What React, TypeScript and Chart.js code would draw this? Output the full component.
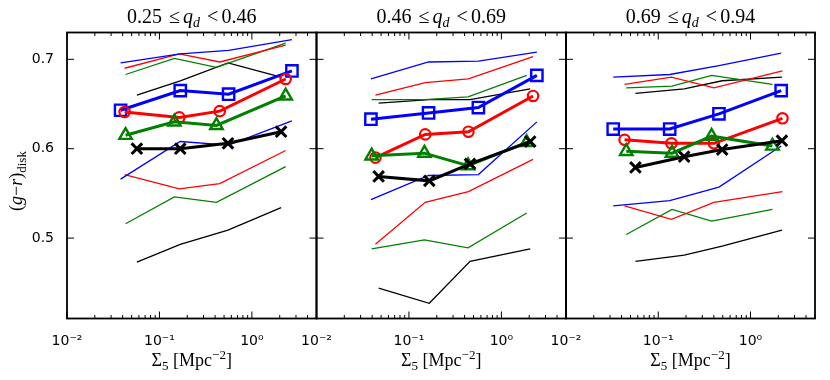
import React, { useEffect, useRef } from 'react';
import { Chart, registerables } from 'chart.js';

Chart.register(...registerables);

// ---------------- data ----------------
const qLow = ['0.25', '0.46', '0.69'];
const qHigh = ['0.46', '0.69', '0.94'];

const xMin = 0.01;
const xMax = 5;
const xMajor = [0.01, 0.1, 1];
const xMajorLabels = ['10⁻²', '10⁻¹', '10⁰'];
const yMin = 0.41;
const yMax = 0.73;
const yMajor = [0.5, 0.6, 0.7];
const yMajorLabels = ['0.5', '0.6', '0.7'];

// Panel 1 (0.25 <= q_d < 0.46)
const p1BlueX = [0.038, 0.168, 0.56, 2.71];
const p1BlueMid = [0.643, 0.665, 0.661, 0.687];
const p1BlueHi = [0.696, 0.706, 0.71, 0.722];
const p1BlueLo = [0.566, 0.608, 0.604, 0.631];
const p1RedX = [0.042, 0.164, 0.449, 2.32];
const p1RedMid = [0.641, 0.635, 0.642, 0.678];
const p1RedHi = [0.69, 0.706, 0.697, 0.716];
const p1RedLo = [0.571, 0.555, 0.561, 0.598];
const p1GreenX = [0.043, 0.145, 0.414, 2.32];
const p1GreenMid = [0.615, 0.63, 0.626, 0.659];
const p1GreenHi = [0.683, 0.701, 0.691, 0.718];
const p1GreenLo = [0.516, 0.546, 0.54, 0.58];
const p1BlackX = [0.057, 0.168, 0.551, 2.07];
const p1BlackMid = [0.6, 0.6, 0.606, 0.619];
const p1BlackHi = [0.66, 0.676, 0.696, 0.68];
const p1BlackLo = [0.473, 0.493, 0.509, 0.534];

// Panel 2 (0.46 <= q_d < 0.69)
const p2BlueX = [0.0388, 0.163, 0.564, 2.42];
const p2BlueMid = [0.633, 0.64, 0.646, 0.682];
const p2BlueHi = [0.678, 0.697, 0.698, 0.708];
const p2BlueLo = [0.543, 0.57, 0.571, 0.63];
const p2RedX = [0.0434, 0.15, 0.44, 2.2];
const p2RedMid = [0.59, 0.616, 0.619, 0.659];
const p2RedHi = [0.66, 0.674, 0.678, 0.703];
const p2RedLo = [0.493, 0.54, 0.552, 0.588];
const p2GreenX = [0.0395, 0.147, 0.436, 1.88];
const p2GreenMid = [0.592, 0.595, 0.581, 0.607];
const p2GreenHi = [0.655, 0.655, 0.658, 0.682];
const p2GreenLo = [0.488, 0.498, 0.489, 0.528];
const p2BlackX = [0.047, 0.166, 0.458, 2.05];
const p2BlackMid = [0.569, 0.564, 0.583, 0.608];
const p2BlackHi = [0.651, 0.655, 0.655, 0.667];
const p2BlackLo = [0.444, 0.427, 0.474, 0.488];

// Panel 3 (0.69 <= q_d < 0.94)
const p3BlueX = [0.0325, 0.133, 0.455, 2.15];
const p3BlueMid = [0.622, 0.622, 0.639, 0.665];
const p3BlueHi = [0.68, 0.683, 0.693, 0.707];
const p3BlueLo = [0.536, 0.542, 0.557, 0.603];
const p3RedX = [0.0431, 0.139, 0.401, 2.22];
const p3RedMid = [0.61, 0.606, 0.606, 0.634];
const p3RedHi = [0.672, 0.68, 0.668, 0.687];
const p3RedLo = [0.536, 0.521, 0.54, 0.552];
const p3GreenX = [0.045, 0.141, 0.379, 1.73];
const p3GreenMid = [0.597, 0.595, 0.614, 0.603];
const p3GreenHi = [0.668, 0.67, 0.682, 0.672];
const p3GreenLo = [0.504, 0.532, 0.519, 0.532];
const p3BlackX = [0.0566, 0.191, 0.493, 2.19];
const p3BlackMid = [0.579, 0.591, 0.599, 0.609];
const p3BlackHi = [0.662, 0.667, 0.676, 0.68];
const p3BlackLo = [0.474, 0.481, 0.491, 0.509];

// ---------------- styling / layout ----------------
const W = 830;
const H = 380;
const panelEdges = [67, 316.5, 566, 815];
const plotTop = 32.5;
const plotBottom = 318.5;

const SERIF = '"Liberation Serif", "DejaVu Serif", serif';
const SANS = '"DejaVu Sans", sans-serif';

const colorBlue = '#0000ff';
const colorRed = '#ff0000';
const colorGreen = '#008000';
const colorBlack = '#000000';

type Series = { color: string; x: number[]; mid: number[]; hi: number[]; lo: number[]; marker: string; radius: number; pw: number; order: number };

function seriesFor(bx: number[], bm: number[], bh: number[], bl: number[], rx: number[], rm: number[], rh: number[], rl: number[], gx: number[], gm: number[], gh: number[], gl: number[], kx: number[], km: number[], kh: number[], kl: number[]): Series[] {
  return [
    { color: colorBlue, x: bx, mid: bm, hi: bh, lo: bl, marker: 'rect', radius: 8, pw: 2.4, order: 4 },
    { color: colorRed, x: rx, mid: rm, hi: rh, lo: rl, marker: 'circle', radius: 5.2, pw: 2.2, order: 3 },
    { color: colorGreen, x: gx, mid: gm, hi: gh, lo: gl, marker: 'triangle', radius: 7.2, pw: 2.4, order: 2 },
    { color: colorBlack, x: kx, mid: km, hi: kh, lo: kl, marker: 'crossRot', radius: 7.5, pw: 3, order: 1 },
  ];
}

const panelSeries: Series[][] = [
  seriesFor(p1BlueX, p1BlueMid, p1BlueHi, p1BlueLo, p1RedX, p1RedMid, p1RedHi, p1RedLo, p1GreenX, p1GreenMid, p1GreenHi, p1GreenLo, p1BlackX, p1BlackMid, p1BlackHi, p1BlackLo),
  seriesFor(p2BlueX, p2BlueMid, p2BlueHi, p2BlueLo, p2RedX, p2RedMid, p2RedHi, p2RedLo, p2GreenX, p2GreenMid, p2GreenHi, p2GreenLo, p2BlackX, p2BlackMid, p2BlackHi, p2BlackLo),
  seriesFor(p3BlueX, p3BlueMid, p3BlueHi, p3BlueLo, p3RedX, p3RedMid, p3RedHi, p3RedLo, p3GreenX, p3GreenMid, p3GreenHi, p3GreenLo, p3BlackX, p3BlackMid, p3BlackHi, p3BlackLo),
];

type Seg = { t: string; font: string; dy?: number; gap?: number };

function drawRich(ctx: CanvasRenderingContext2D, segs: Seg[], cx: number, baseline: number) {
  let total = 0;
  const widths = segs.map((s) => {
    ctx.font = s.font;
    const w = ctx.measureText(s.t).width + (s.gap || 0);
    total += w;
    return w;
  });
  let x = cx - total / 2;
  ctx.textAlign = 'left';
  ctx.textBaseline = 'alphabetic';
  segs.forEach((s, i) => {
    ctx.font = s.font;
    ctx.fillText(s.t, x + (s.gap || 0), baseline + (s.dy || 0));
    x += widths[i];
  });
}

function buildDatasets(series: Series[]) {
  const ds: any[] = [];
  series.forEach((s) => {
    [s.hi, s.lo].forEach((arr) => {
      ds.push({
        data: s.x.map((xv, i) => ({ x: xv, y: arr[i] })),
        borderColor: s.color,
        borderWidth: 1.3,
        pointRadius: 0,
        fill: false,
        tension: 0,
        order: 10,
      });
    });
    ds.push({
      data: s.x.map((xv, i) => ({ x: xv, y: s.mid[i] })),
      borderColor: s.color,
      borderWidth: 3,
      pointStyle: s.marker,
      pointRadius: s.radius,
      pointBorderWidth: s.pw,
      pointBorderColor: s.color,
      pointBackgroundColor: 'rgba(0,0,0,0)',
      fill: false,
      tension: 0,
      order: s.order,
    });
  });
  return ds;
}

function makeDecorPlugin(pi: number) {
  return {
    id: 'decor' + pi,
    afterDraw(chart: any) {
      const ctx: CanvasRenderingContext2D = chart.ctx;
      const { left, right, top, bottom } = chart.chartArea;
      const xs = chart.scales.x;
      const ys = chart.scales.y;
      ctx.save();
      ctx.strokeStyle = '#000';
      ctx.lineWidth = 1;
      ctx.beginPath();
      xMajor.forEach((v) => {
        const px = xs.getPixelForValue(v);
        ctx.moveTo(px, bottom);
        ctx.lineTo(px, bottom - 7);
        ctx.moveTo(px, top);
        ctx.lineTo(px, top + 7);
      });
      xMajor.forEach((d) => {
        for (let m = 2; m <= 9; m++) {
          const v = d * m;
          if (v > xMax) continue;
          const px = xs.getPixelForValue(v);
          ctx.moveTo(px, bottom);
          ctx.lineTo(px, bottom - 3.5);
          ctx.moveTo(px, top);
          ctx.lineTo(px, top + 3.5);
        }
      });
      yMajor.forEach((v) => {
        const py = ys.getPixelForValue(v);
        ctx.moveTo(left, py);
        ctx.lineTo(left + 7, py);
        ctx.moveTo(right, py);
        ctx.lineTo(right - 7, py);
      });
      ctx.stroke();
      ctx.lineWidth = 1.8;
      ctx.strokeRect(left, top, right - left, bottom - top);

      ctx.fillStyle = '#000';
      const cx = (left + right) / 2;
      // panel title
      drawRich(
        ctx,
        [
          { t: qLow[pi], font: `20px ${SERIF}` },
          { t: '\u2264', font: `20px ${SERIF}`, gap: 7 },
          { t: 'q', font: `italic 20px ${SERIF}`, gap: 3 },
          { t: 'd', font: `italic 14px ${SERIF}`, dy: 4 },
          { t: '<', font: `20px ${SERIF}`, gap: 7 },
          { t: qHigh[pi], font: `20px ${SERIF}`, gap: 3 },
        ],
        cx,
        23
      );
      // x axis title
      drawRich(
        ctx,
        [
          { t: '\u03A3', font: `18px ${SERIF}` },
          { t: '5', font: `13px ${SERIF}`, dy: 4 },
          { t: ' [Mpc', font: `18px ${SERIF}` },
          { t: '\u22122', font: `13px ${SERIF}`, dy: -7 },
          { t: ']', font: `18px ${SERIF}` },
        ],
        cx,
        366
      );
      // y axis title
      if (pi === 0) {
        ctx.save();
        ctx.translate(22, 181);
        ctx.rotate(-Math.PI / 2);
        drawRich(
          ctx,
          [
            { t: '(', font: `18px ${SERIF}` },
            { t: 'g', font: `italic 18px ${SERIF}` },
            { t: '\u2212', font: `18px ${SERIF}` },
            { t: 'r', font: `italic 18px ${SERIF}` },
            { t: ')', font: `18px ${SERIF}` },
            { t: 'disk', font: `13px ${SERIF}`, dy: 4 },
          ],
          0,
          0
        );
        ctx.restore();
      }
      ctx.restore();
    },
  };
}

function makeChart(canvas: HTMLCanvasElement, pi: number) {
  const left = panelEdges[pi];
  const right = panelEdges[pi + 1];
  return new Chart(canvas, {
    type: 'line',
    data: { datasets: buildDatasets(panelSeries[pi]) },
    options: {
      animation: false,
      responsive: false,
      devicePixelRatio: 1,
      layout: { padding: { left: 0, right: W - right, top: plotTop, bottom: 0 } },
      plugins: {
        legend: { display: false },
        tooltip: { enabled: false },
        title: { display: false },
      },
      scales: {
        x: {
          type: 'logarithmic',
          min: xMin,
          max: xMax,
          position: 'bottom',
          grid: { display: false },
          border: { display: false },
          afterBuildTicks: (s: any) => {
            s.ticks = xMajor.map((v) => ({ value: v }));
          },
          afterFit: (s: any) => {
            s.height = H - plotBottom;
          },
          ticks: {
            autoSkip: false,
            maxRotation: 0,
            padding: 6,
            color: '#000',
            font: { family: SANS, size: 14 },
            callback: (_v: any, i: number) => xMajorLabels[i],
          },
        },
        y: {
          type: 'linear',
          min: yMin,
          max: yMax,
          position: 'left',
          grid: { display: false },
          border: { display: false },
          afterBuildTicks: (s: any) => {
            s.ticks = yMajor.map((v) => ({ value: v }));
          },
          afterFit: (s: any) => {
            s.width = left;
          },
          ticks: {
            display: pi === 0,
            padding: 5,
            color: '#000',
            font: { family: SANS, size: 14 },
            callback: (_v: any, i: number) => yMajorLabels[i],
          },
        },
      },
    } as any,
    plugins: [makeDecorPlugin(pi)],
  });
}

export default function App() {
  const r0 = useRef<HTMLCanvasElement>(null);
  const r1 = useRef<HTMLCanvasElement>(null);
  const r2 = useRef<HTMLCanvasElement>(null);

  useEffect(() => {
    const charts = [r0, r1, r2].map((r, i) => makeChart(r.current as HTMLCanvasElement, i));
    return () => charts.forEach((c) => c.destroy());
  }, []);

  const cs: React.CSSProperties = { position: 'absolute', left: 0, top: 0, width: W, height: H };
  return (
    <div style={{ position: 'absolute', left: 0, top: 0, width: W, height: H, background: '#fff' }}>
      <canvas ref={r0} width={W} height={H} style={cs} />
      <canvas ref={r1} width={W} height={H} style={cs} />
      <canvas ref={r2} width={W} height={H} style={cs} />
    </div>
  );
}
